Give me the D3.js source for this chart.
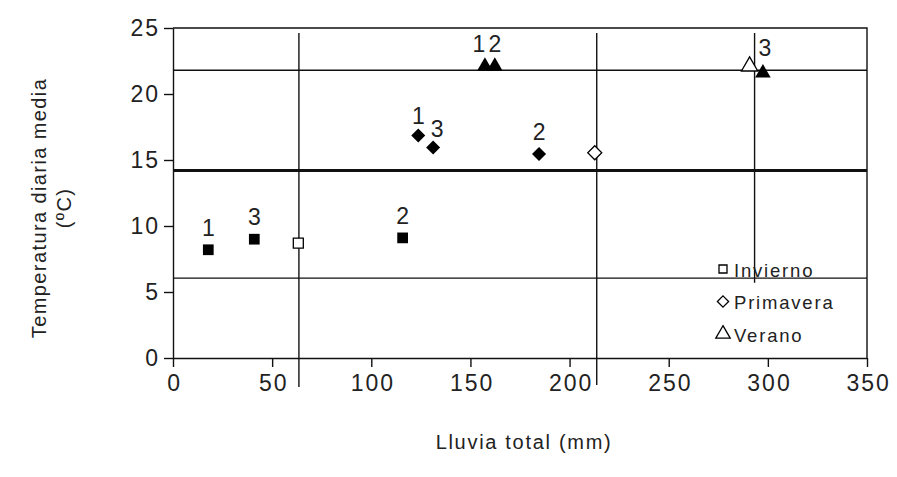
<!DOCTYPE html>
<html>
<head>
<meta charset="utf-8">
<script src="https://cdn.jsdelivr.net/npm/d3@7"></script>
<style>
  html, body { margin: 0; padding: 0; background: #fff; }
  svg { display: block; font-family: "Liberation Sans", Arial, sans-serif; }
</style>
</head>
<body>
<svg id="chart" width="897" height="477"></svg>
<script>
// Rainfall (mm) and mean daily temperature (ºC) for three samples per season
const sampleIds = ["1", "2", "3"];
const rainInvierno = [17.8, 115.8, 41.0];
const tempInvierno = [8.2, 9.1, 9.0];
const rainPrimavera = [123.7, 184.6, 131.2];
const tempPrimavera = [16.85, 15.45, 15.95];
const rainVerano = [157.3, 162.3, 297.5];
const tempVerano = [22.1, 22.1, 21.6];

// Seasonal means (open markers)
const seasons = ["Invierno", "Primavera", "Verano"];
const rainMeans = [63.2, 212.7, 290.8];
const tempMeans = [8.7, 15.55, 22.1];

// Reference thresholds
const rainRefs = [63.5, 213.7, 293.3];
const tempRefs = [21.8, 14.2, 6.05];
const tempRefMain = 14.2;

const xTicks = [0, 50, 100, 150, 200, 250, 300, 350];
const yTicks = [0, 5, 10, 15, 20, 25];

const svg = d3.select("#chart");
const plotLeft = 173, plotRight = 867, plotTop = 28, plotBottom = 358;

const x = d3.scaleLinear().domain([0, 350]).range([plotLeft, plotRight]);
const y = d3.scaleLinear().domain([0, 25]).range([plotBottom, plotTop]);

const ink = "#111";
const textInk = "#222";

// Plot frame (top and right edges)
svg.append("path")
  .attr("d", `M${plotLeft},${plotTop}H${plotRight}V${plotBottom}`)
  .attr("fill", "none").attr("stroke", ink).attr("stroke-width", 1.4);

// Horizontal temperature thresholds
svg.selectAll("line.tref").data(tempRefs).join("line")
  .attr("class", "tref")
  .attr("x1", plotLeft).attr("x2", plotRight)
  .attr("y1", d => y(d)).attr("y2", d => y(d))
  .attr("stroke", ink)
  .attr("stroke-width", d => d === tempRefMain ? 3 : 1.4);

// Vertical rainfall thresholds; the last stops at the legend
const vEnds = [plotBottom + 29, plotBottom + 27, y(5.7)];
svg.selectAll("line.rref").data(rainRefs).join("line")
  .attr("class", "rref")
  .attr("x1", d => x(d)).attr("x2", d => x(d))
  .attr("y1", plotTop + 5)
  .attr("y2", (d, i) => vEnds[i])
  .attr("stroke", ink).attr("stroke-width", 1.4);

// Axes
const tickFont = g => g.selectAll("text")
  .attr("font-size", 23).attr("fill", textInk)
  .attr("letter-spacing", 2);

const xAxis = svg.append("g")
  .attr("transform", `translate(0,${plotBottom})`)
  .call(d3.axisBottom(x).tickValues(xTicks).tickSize(9).tickSizeOuter(0).tickPadding(8));
xAxis.call(tickFont);
xAxis.selectAll("text").attr("dx", "0.05em");

const yAxis = svg.append("g")
  .attr("transform", `translate(${plotLeft},0)`)
  .call(d3.axisLeft(y).tickValues(yTicks).tickSize(9).tickSizeOuter(0).tickPadding(4));
yAxis.call(tickFont);

[xAxis, yAxis].forEach(a => {
  a.select(".domain").attr("stroke", ink).attr("stroke-width", 1.4);
  a.selectAll(".tick line").attr("stroke", ink).attr("stroke-width", 1.4);
});

// Marker shapes
const sym = (type, size) => d3.symbol().type(type).size(size)();
const diamond = d3.symbolDiamond2 ? d3.symbolDiamond2 : d3.symbolDiamond;

const groups = [
  { rain: rainInvierno, temp: tempInvierno, shape: d3.symbolSquare, size: 115 },
  { rain: rainPrimavera, temp: tempPrimavera, shape: diamond, size: 125 },
  { rain: rainVerano, temp: tempVerano, shape: d3.symbolTriangle, size: 105 }
];

// Small nudges so neighbouring sample numbers don't collide
const labelNudge = { "1-0": [0, 2], "1-2": [4, 4], "2-0": [-6, 0], "2-2": [2, -3] };

groups.forEach((g, gi) => {
  const pts = g.rain.map((r, i) => ({ r, t: g.temp[i], id: sampleIds[i], i }));
  svg.selectAll(null).data(pts).join("path")
    .attr("d", sym(g.shape, g.size))
    .attr("transform", d => `translate(${x(d.r)},${y(d.t)})`)
    .attr("fill", "#000");
  svg.selectAll(null).data(pts).join("text")
    .attr("x", d => x(d.r) + (labelNudge[gi + "-" + d.i] || [0, 0])[0])
    .attr("y", d => y(d.t) - 14 + (labelNudge[gi + "-" + d.i] || [0, 0])[1])
    .attr("text-anchor", "middle")
    .attr("font-size", 23).attr("fill", textInk)
    .text(d => d.id);
});

// Seasonal means as open markers
const openShapes = [d3.symbolSquare, diamond, d3.symbolTriangle];
const openSizes = [100, 125, 115];
svg.selectAll("path.mean").data(seasons).join("path")
  .attr("class", "mean")
  .attr("d", (d, i) => sym(openShapes[i], openSizes[i]))
  .attr("transform", (d, i) => `translate(${x(rainMeans[i])},${y(tempMeans[i])})`)
  .attr("fill", "#fff").attr("stroke", "#000").attr("stroke-width", 1.3);

// Legend
const legend = svg.append("g").attr("transform", "translate(723,269)");
seasons.forEach((s, i) => {
  const row = legend.append("g").attr("transform", `translate(0,${i * 32.5})`);
  row.append("path")
    .attr("d", sym(openShapes[i], [64, 80, 90][i]))
    .attr("fill", "none").attr("stroke", "#000").attr("stroke-width", 1.3);
  row.append("text")
    .attr("x", 11).attr("y", 7.5)
    .attr("font-size", 18.5).attr("fill", textInk)
    .attr("letter-spacing", 1.8)
    .text(s);
});

// Axis titles
svg.append("text")
  .attr("x", 524).attr("y", 449)
  .attr("text-anchor", "middle")
  .attr("font-size", 20).attr("fill", textInk).attr("letter-spacing", 1.7)
  .text("Lluvia total (mm)");

const yTitle = svg.append("text")
  .attr("transform", "translate(46,208) rotate(-90)")
  .attr("text-anchor", "middle")
  .attr("font-size", 20).attr("fill", textInk).attr("letter-spacing", 1.4);
yTitle.append("tspan").attr("x", 0).attr("dy", 0).text("Temperatura diaria media");
yTitle.append("tspan").attr("x", 0).attr("dy", 25).text("(ºC)");
</script>
</body>
</html>
